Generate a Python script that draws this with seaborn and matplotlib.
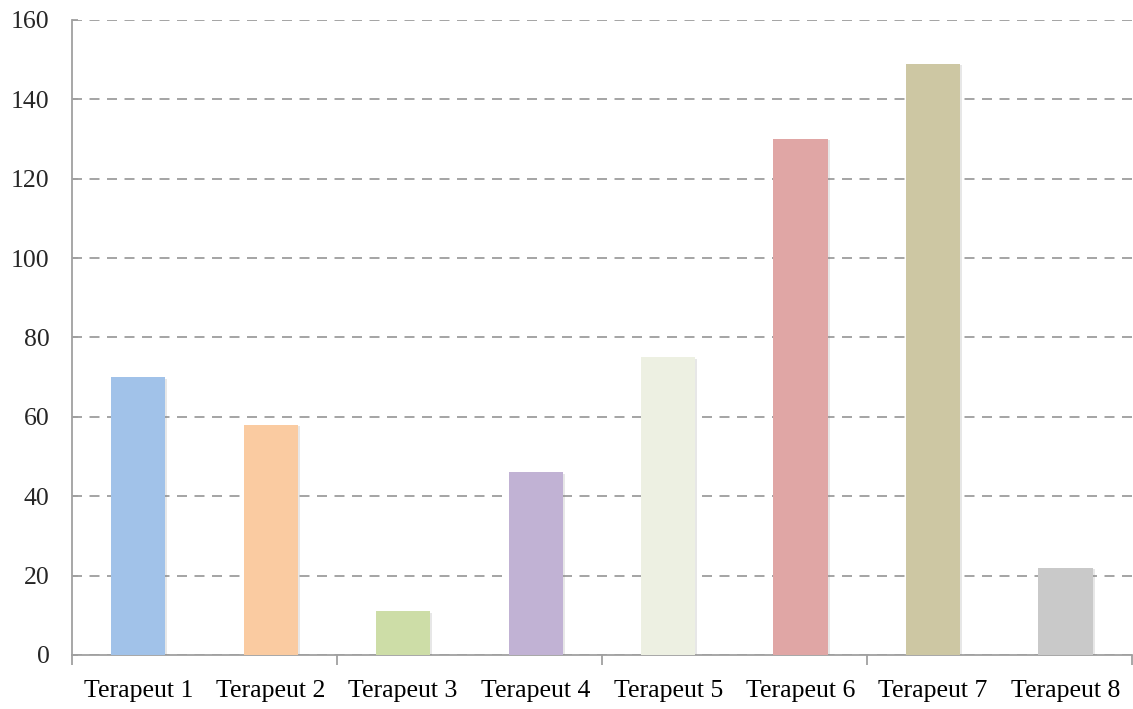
import pandas as pd
import matplotlib
matplotlib.use('Agg')
import matplotlib.pyplot as plt
import matplotlib.patheffects as pe
import seaborn as sns

# Data
categories = ['Terapeut 1', 'Terapeut 2', 'Terapeut 3', 'Terapeut 4',
              'Terapeut 5', 'Terapeut 6', 'Terapeut 7', 'Terapeut 8']
values = [70, 58, 11, 46, 75, 130, 149, 22]
colors = ['#A1C2E9', '#FACBA1', '#CDDDA7', '#C1B2D4',
          '#EDF0E2', '#E0A6A5', '#CDC7A3', '#C9C9C9']
y_ticks = [0, 20, 40, 60, 80, 100, 120, 140, 160]

df = pd.DataFrame({'terapeut': categories, 'value': values})

sns.set_style('white')
plt.rcParams['font.family'] = ['Liberation Serif', 'DejaVu Serif']

fig = plt.figure(figsize=(11.33, 7.09), dpi=100)
ax = fig.add_axes([0.0635, 0.0762, 0.9355, 0.8956])

sns.barplot(data=df, x='terapeut', y='value', hue='terapeut',
            palette=colors, legend=False, width=0.41, saturation=1,
            ax=ax, zorder=3)

# soft shadow like the original
for p in ax.patches:
    p.set_edgecolor('none')
    p.set_path_effects([pe.SimplePatchShadow(offset=(1.5, -1), shadow_rgbFace='#888888', alpha=0.2),
                        pe.Normal()])

ax.set_xlim(-0.5, len(categories) - 0.5)
ax.set_ylim(0, 160)
ax.set_yticks(y_ticks)
ax.yaxis.grid(True, linestyle=(0, (6, 4.5)), color='#959595', linewidth=1.2, zorder=0)
ax.xaxis.grid(False)

for s in ['top', 'right']:
    ax.spines[s].set_visible(False)
for s in ['left', 'bottom']:
    ax.spines[s].set_color('#A0A0A0')
    ax.spines[s].set_linewidth(1.3)

# category labels without ticks, tick marks every two categories
ax.set_xticks(range(len(categories)))
ax.set_xticklabels(categories)
ax.set_xticks([i - 0.5 for i in range(0, len(categories) + 1, 2)], minor=True)
ax.tick_params(axis='x', which='major', length=0, pad=18, labelsize=18.5, colors='black')
ax.tick_params(axis='x', which='minor', length=7, width=1.3, direction='out', color='#A0A0A0', bottom=True)
ax.tick_params(axis='y', which='major', length=4, width=1.3, direction='in', color='#A0A0A0',
               labelsize=18.5, pad=16, left=True)

ax.set_xlabel('')
ax.set_ylabel('')

plt.savefig('out.png', dpi=100)
